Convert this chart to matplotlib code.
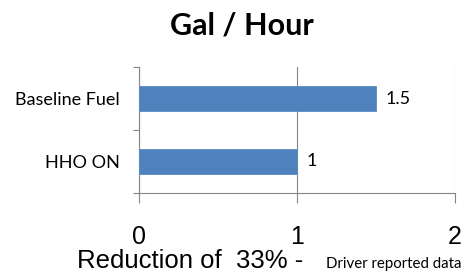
import matplotlib
matplotlib.use("Agg")
import matplotlib.pyplot as plt
from matplotlib.ticker import FixedLocator

categories = ["HHO ON", "Baseline Fuel"]
values = [1, 1.5]
value_labels = ["1", "1.5"]
x_ticks = [0, 1, 2]
title = "Gal / Hour"
xlabel_main = "Reduction of  33% - "
xlabel_small = "Driver reported data"

W, H = 465, 274
fig = plt.figure(figsize=(W / 100, H / 100), dpi=100)
ax = fig.add_axes([139 / W, 1 - 193 / H, (455 - 139) / W, (193 - 67) / H])

gray = "#868686"
bar_color = "#4F81BD"
ypos = list(range(len(categories)))
ax.barh(ypos, values, height=0.4, color=bar_color, edgecolor="#5B8CC4", linewidth=0.6, zorder=3)

for y, v, lab in zip(ypos, values, value_labels):
    ax.annotate(lab, (v, y), xytext=(7, 0), textcoords="offset points",
                va="center", ha="left", fontsize=13, family="Lato", color="#000000")

ax.set_xlim(0, 2)
ax.set_ylim(-0.5, len(categories) - 0.5)
ax.set_xticks(x_ticks)
ax.set_xticklabels([str(t) for t in x_ticks], fontsize=18, family="Liberation Sans")
ax.set_yticks(ypos)
ax.set_yticklabels(categories, fontsize=13, family="Lato")
ax.yaxis.set_minor_locator(FixedLocator([-0.5, 0.5, 1.5]))
ax.tick_params(axis="y", which="major", length=0, pad=14)
ax.tick_params(axis="y", which="minor", length=4.5, color=gray, width=0.8)
ax.tick_params(axis="x", which="major", length=7, color=gray, width=0.8, pad=16)

ax.xaxis.grid(True, color=gray, linewidth=0.8, zorder=0)
ax.set_axisbelow(True)
for s in ["top", "right"]:
    ax.spines[s].set_visible(False)
for s in ["left", "bottom"]:
    ax.spines[s].set_color(gray)
    ax.spines[s].set_linewidth(0.8)

fig.text(242 / W, 1 - 25 / H, title, ha="center", va="center",
         fontsize=22, fontweight="bold", family="Lato")
fig.text(77 / W, 1 - 268 / H, xlabel_main, ha="left", va="baseline",
         fontsize=18.5, family="Liberation Sans")
fig.text(461 / W, 1 - 268 / H, xlabel_small, ha="right", va="baseline",
         fontsize=10.8, family="Lato")

fig.savefig("out.png", dpi=100)
